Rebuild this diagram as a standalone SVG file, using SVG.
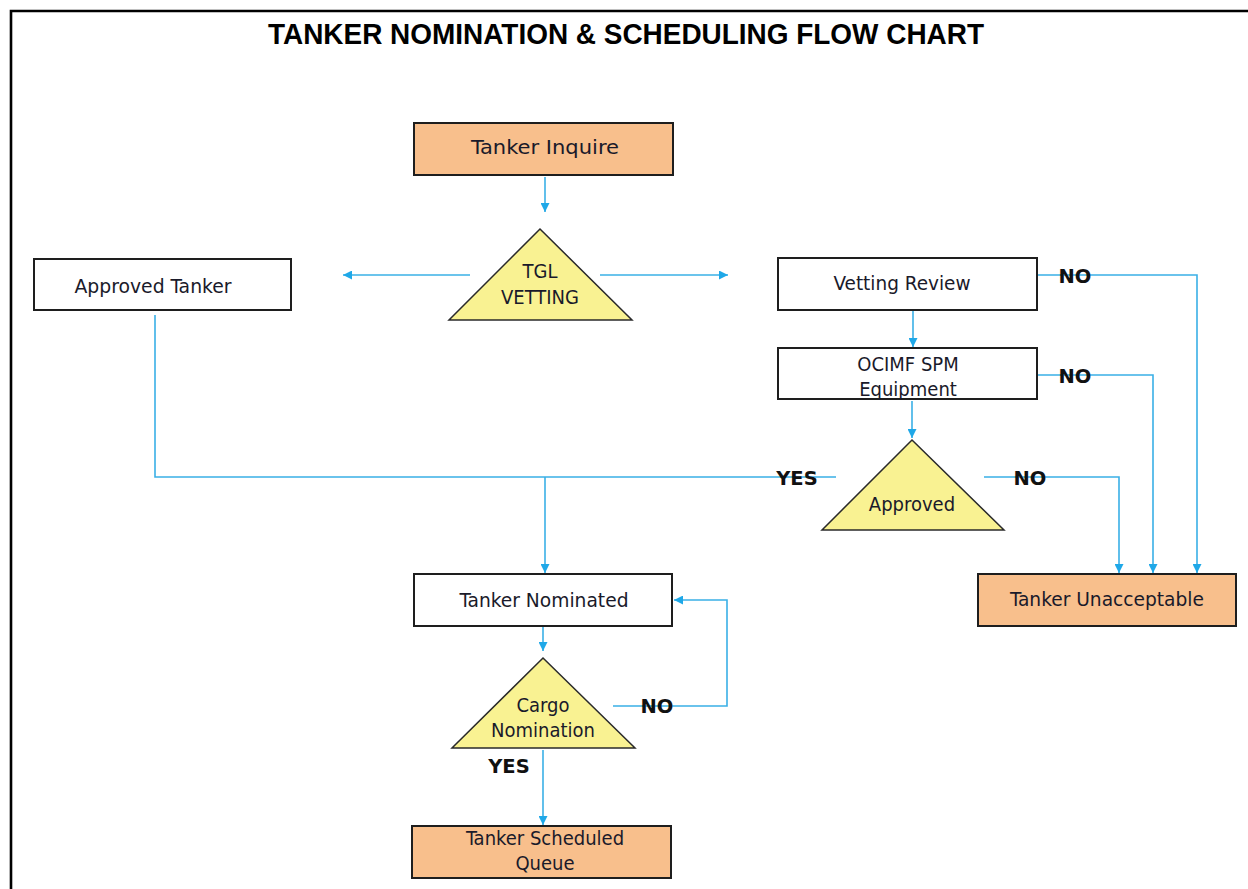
<svg xmlns="http://www.w3.org/2000/svg" width="1248" height="889" viewBox="0 0 1248 889">
<defs>
<style>
.box{stroke:#1e1e1e;stroke-width:2}
.orange{fill:#F8BF8C}
.white{fill:#ffffff}
.tri{fill:#F9F292;stroke:#2a2a2a;stroke-width:1.5}
.t{font-family:"DejaVu Sans Condensed","DejaVu Sans",sans-serif;font-size:20px;fill:#1a1a2a;text-anchor:middle}
.lbl{font-family:"DejaVu Sans","Liberation Sans",sans-serif;font-weight:bold;font-size:19.5px;fill:#111;text-anchor:middle}
.c{fill:none;stroke:#3AB0E6;stroke-width:1.6}
</style>
<marker id="ah" viewBox="0 0 10 10" refX="10" refY="5" markerWidth="9" markerHeight="9" markerUnits="userSpaceOnUse" orient="auto">
<path d="M0,0 L10,5 L0,10 z" fill="#1FA8E8"/>
</marker>
</defs>
<rect width="1248" height="889" fill="#ffffff"/>
<path d="M11,889 V11 H1248" fill="none" stroke="#000" stroke-width="2.6"/>
<text x="626" y="44" font-family="Liberation Sans, sans-serif" font-weight="bold" font-size="29" text-anchor="middle" textLength="716" lengthAdjust="spacingAndGlyphs" fill="#000">TANKER NOMINATION &amp; SCHEDULING FLOW CHART</text>

<g id="connectors">
<path class="c" d="M545,177 V212" marker-end="url(#ah)"/>
<path class="c" d="M470,275 H343" marker-end="url(#ah)"/>
<path class="c" d="M600,275 H728" marker-end="url(#ah)"/>
<path class="c" d="M913,311 V347" marker-end="url(#ah)"/>
<path class="c" d="M912,401 V438" marker-end="url(#ah)"/>
<path class="c" d="M1037,275 H1197 V573" marker-end="url(#ah)"/>
<path class="c" d="M1037,375 H1153 V573" marker-end="url(#ah)"/>
<path class="c" d="M984,477 H1119 V573" marker-end="url(#ah)"/>
<path class="c" d="M836,477 H155 V315"/>
<path class="c" d="M545,477 V573" marker-end="url(#ah)"/>
<path class="c" d="M543,627 V651" marker-end="url(#ah)"/>
<path class="c" d="M613,706 H727 V600 H674" marker-end="url(#ah)"/>
<path class="c" d="M543,750 V825" marker-end="url(#ah)"/>
<text class="lbl" x="1075" y="283">NO</text>
<text class="lbl" x="1075" y="383">NO</text>
<text class="lbl" x="1030" y="485">NO</text>
<text class="lbl" x="797" y="485">YES</text>
<text class="lbl" x="657" y="713">NO</text>
<text class="lbl" x="509" y="773">YES</text>
</g>

<g id="tanker-inquire">
<rect class="box orange" x="414" y="123" width="259" height="52"/>
<text class="t" x="545" y="154" textLength="148" lengthAdjust="spacingAndGlyphs">Tanker Inquire</text>
</g>
<g id="tgl-vetting">
<polygon class="tri" points="540,229 632,320 449,320"/>
<text class="t" x="540" y="278">TGL</text>
<text class="t" x="540" y="304">VETTING</text>
</g>
<g id="approved-tanker">
<rect class="box white" x="34" y="259" width="257" height="51"/>
<text class="t" x="153" y="293" textLength="157" lengthAdjust="spacingAndGlyphs">Approved Tanker</text>
</g>
<g id="vetting-review">
<rect class="box white" x="778" y="258" width="259" height="52"/>
<text class="t" x="902" y="290" textLength="137" lengthAdjust="spacingAndGlyphs">Vetting Review</text>
</g>
<g id="ocimf">
<rect class="box white" x="778" y="348" width="259" height="51"/>
<text class="t" x="908" y="371">OCIMF SPM</text>
<text class="t" x="908" y="396">Equipment</text>
</g>
<g id="approved">
<polygon class="tri" points="912,440 1004,530 822,530"/>
<text class="t" x="912" y="511">Approved</text>
</g>
<g id="tanker-unacceptable">
<rect class="box orange" x="978" y="574" width="258" height="52"/>
<text class="t" x="1107" y="606" textLength="194" lengthAdjust="spacingAndGlyphs">Tanker Unacceptable</text>
</g>
<g id="tanker-nominated">
<rect class="box white" x="414" y="574" width="258" height="52"/>
<text class="t" x="544" y="607" textLength="169" lengthAdjust="spacingAndGlyphs">Tanker Nominated</text>
</g>
<g id="cargo-nomination">
<polygon class="tri" points="543,658 635,748 452,748"/>
<text class="t" x="543" y="712">Cargo</text>
<text class="t" x="543" y="737">Nomination</text>
</g>
<g id="tanker-scheduled">
<rect class="box orange" x="412" y="826" width="259" height="52"/>
<text class="t" x="545" y="845">Tanker Scheduled</text>
<text class="t" x="545" y="870">Queue</text>
</g>
</svg>
